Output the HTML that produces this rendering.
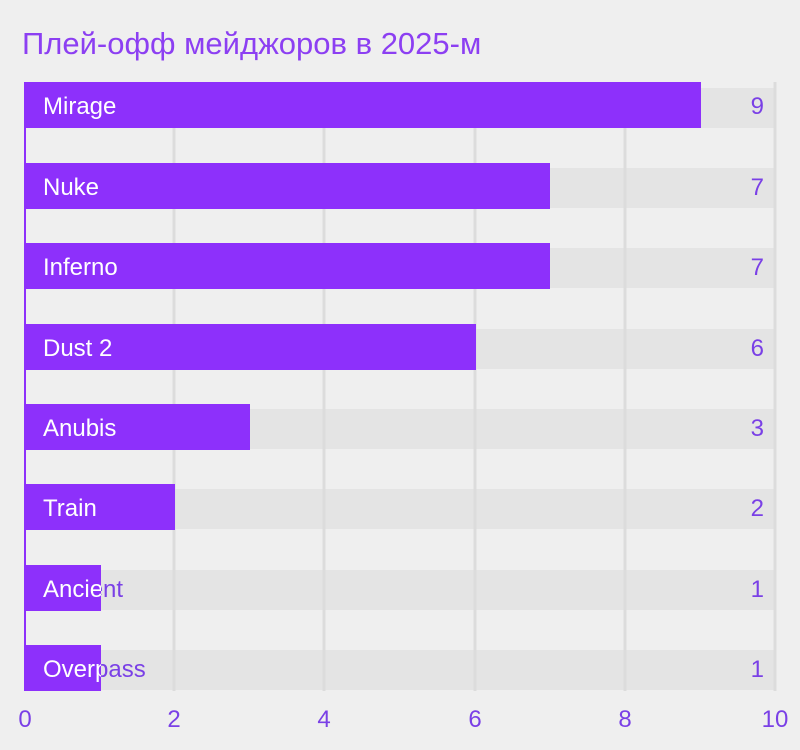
<!DOCTYPE html>
<html><head><meta charset="utf-8"><style>
body{margin:0;background:#efefef;}
svg{display:block;font-family:"Liberation Sans",sans-serif;}
</style></head><body>
<svg width="800" height="750" viewBox="0 0 800 750">
<defs>
<clipPath id="c1"><rect x="24" y="565" width="77" height="46"/></clipPath>
<clipPath id="c2"><rect x="24" y="645" width="77" height="46"/></clipPath>
</defs>
<rect width="800" height="750" fill="#efefef"/>
<text x="22" y="54" font-size="31" fill="#8c3ff2">Плей-офф мейджоров в 2025-м</text>
<g fill="#e4e4e4">
<rect x="24" y="88" width="751" height="40"/>
<rect x="24" y="168" width="751" height="40"/>
<rect x="24" y="248" width="751" height="40"/>
<rect x="24" y="329" width="751" height="40"/>
<rect x="24" y="409" width="751" height="40"/>
<rect x="24" y="489" width="751" height="40"/>
<rect x="24" y="570" width="751" height="40"/>
<rect x="24" y="650" width="751" height="40"/>
</g>
<g stroke="#dcdcdc" stroke-width="3">
<line x1="174" y1="128" x2="174" y2="691"/>
<line x1="324" y1="128" x2="324" y2="691"/>
<line x1="475" y1="128" x2="475" y2="691"/>
<line x1="625" y1="128" x2="625" y2="691"/>
<line x1="775" y1="82" x2="775" y2="691"/>
</g>
<g fill="#8d30fb">
<rect x="24" y="82" width="677" height="46"/>
<rect x="24" y="163" width="526" height="46"/>
<rect x="24" y="243" width="526" height="46"/>
<rect x="24" y="324" width="452" height="46"/>
<rect x="24" y="404" width="226" height="46"/>
<rect x="24" y="484" width="151" height="46"/>
<rect x="24" y="565" width="77" height="46"/>
<rect x="24" y="645" width="77" height="46"/>
</g>
<line x1="25" y1="82" x2="25" y2="691" stroke="#8d30fb" stroke-width="2"/>
<g font-size="24" fill="#ffffff">
<text x="43" y="114">Mirage</text>
<text x="43" y="195">Nuke</text>
<text x="43" y="275">Inferno</text>
<text x="43" y="356">Dust 2</text>
<text x="43" y="436">Anubis</text>
<text x="43" y="516">Train</text>
</g>
<g font-size="24" fill="#7a40e6">
<text x="43" y="597">Ancient</text>
<text x="43" y="677">Overpass</text>
</g>
<g font-size="24" fill="#ffffff">
<text x="43" y="597" clip-path="url(#c1)">Ancient</text>
<text x="43" y="677" clip-path="url(#c2)">Overpass</text>
</g>
<g font-size="24" fill="#7a40e6" text-anchor="end">
<text x="764" y="114">9</text>
<text x="764" y="195">7</text>
<text x="764" y="275">7</text>
<text x="764" y="356">6</text>
<text x="764" y="436">3</text>
<text x="764" y="516">2</text>
<text x="764" y="597">1</text>
<text x="764" y="677">1</text>
</g>
<g font-size="24" fill="#7a40e6" text-anchor="middle">
<text x="25" y="727">0</text>
<text x="174" y="727">2</text>
<text x="324" y="727">4</text>
<text x="475" y="727">6</text>
<text x="625" y="727">8</text>
<text x="775" y="727">10</text>
</g>
</svg>
</body></html>
